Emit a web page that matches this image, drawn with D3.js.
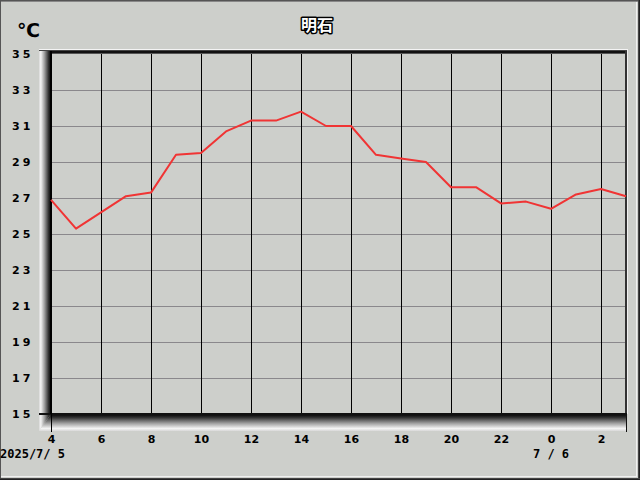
<!DOCTYPE html>
<html><head><meta charset="utf-8">
<script src="https://cdn.jsdelivr.net/npm/d3@7/dist/d3.min.js"></script>
<style>html,body{margin:0;padding:0;background:#cdcfcb;}svg{display:block;}</style>
</head><body>
<script>
const title = "明石";
const unit = "℃";
const hours = [4,5,6,7,8,9,10,11,12,13,14,15,16,17,18,19,20,21,22,23,0,1,2,3];
const temps = [26.9,25.3,26.2,27.1,27.3,29.4,29.5,30.7,31.3,31.3,31.8,31.0,31.0,29.4,29.2,29.0,27.6,27.6,26.7,26.8,26.4,27.2,27.5,27.1];
const yTicks = [15,17,19,21,23,25,27,29,31,33,35];
const xTickIdx = [0,2,4,6,8,10,12,14,16,18,20,22];
const dateLabels = [{idx:0, text:"2025/7/ 5"}, {idx:20, text:"7 / 6"}];

const W = 640, H = 480;
const svg = d3.select("body").append("svg").attr("width", W).attr("height", H);
const bg = "#cdcfcb";
svg.append("rect").attr("width", W).attr("height", H).attr("fill", bg);

const x = d3.scaleLinear().domain([0, hours.length - 1]).range([51, 626]);
const y = d3.scaleLinear().domain([15, 35]).range([414, 54]);

const defs = svg.append("defs");
const gw = defs.append("linearGradient").attr("id","wall").attr("x1","0").attr("x2","1").attr("y1","0").attr("y2","0");
gw.append("stop").attr("offset","0").attr("stop-color","#d8d8d8");
gw.append("stop").attr("offset","0.15").attr("stop-color","#f4f4f4");
gw.append("stop").attr("offset","0.45").attr("stop-color","#a0a0a0");
gw.append("stop").attr("offset","0.8").attr("stop-color","#303030");
gw.append("stop").attr("offset","1").attr("stop-color","#000");
const gf = defs.append("linearGradient").attr("id","floor").attr("x1","0").attr("x2","0").attr("y1","0").attr("y2","1");
gf.append("stop").attr("offset","0").attr("stop-color","#000");
gf.append("stop").attr("offset","0.2").attr("stop-color","#303030");
gf.append("stop").attr("offset","0.55").attr("stop-color","#a0a0a0");
gf.append("stop").attr("offset","0.85").attr("stop-color","#f4f4f4");
gf.append("stop").attr("offset","1").attr("stop-color","#d8d8d8");

// outer frame
svg.append("line").attr("x1",0).attr("x2",W).attr("y1",0.5).attr("y2",0.5).attr("stroke","#555");
svg.append("line").attr("x1",0).attr("x2",W).attr("y1",1.5).attr("y2",1.5).attr("stroke","#888");
svg.append("line").attr("x1",0.5).attr("x2",0.5).attr("y1",0).attr("y2",H).attr("stroke","#555");
svg.append("line").attr("x1",W-0.5).attr("x2",W-0.5).attr("y1",0).attr("y2",H).attr("stroke","#222");
svg.append("line").attr("x1",W-1.5).attr("x2",W-1.5).attr("y1",0).attr("y2",H).attr("stroke","#444");
svg.append("line").attr("x1",W-3.5).attr("x2",W-3.5).attr("y1",2).attr("y2",H-3).attr("stroke","#f0f0f0");
svg.append("line").attr("x1",0).attr("x2",W).attr("y1",H-0.5).attr("y2",H-0.5).attr("stroke","#222");
svg.append("line").attr("x1",0).attr("x2",W).attr("y1",H-1.5).attr("y2",H-1.5).attr("stroke","#444");
svg.append("line").attr("x1",1).attr("x2",W-3).attr("y1",H-3.5).attr("y2",H-3.5).attr("stroke","#f0f0f0");

const x0 = x.range()[0], x1 = x.range()[1];
const yTop = 51, yBot = y(15);

// 3D wall and floor
svg.append("polygon").attr("points", `39,${yTop-2} ${x0},${yTop} ${x0},${yBot} 39,${yBot+17}`).attr("fill","url(#wall)");
svg.append("polygon").attr("points", `39,${yBot+17} ${x0},${yBot} ${x1+1},${yBot} ${x1+1},${yBot+17}`).attr("fill","url(#floor)");

// horizontal grid
svg.append("g").selectAll("line").data(yTicks.filter(v => v > 15 && v < 35)).join("line")
  .attr("x1", x0).attr("x2", x1).attr("y1", d => Math.round(y(d)) + 0.5).attr("y2", d => Math.round(y(d)) + 0.5)
  .attr("stroke", "#8a888c").attr("stroke-width", 1);
// vertical grid
svg.append("g").selectAll("line").data(xTickIdx.slice(1)).join("line")
  .attr("x1", d => Math.round(x(d)) + 0.5).attr("x2", d => Math.round(x(d)) + 0.5)
  .attr("y1", yTop).attr("y2", yBot)
  .attr("stroke", "#000").attr("stroke-width", 1);

// top bar
svg.append("line").attr("x1",39).attr("x2",x1+2).attr("y1",yTop-1.5).attr("y2",yTop-1.5).attr("stroke","#f4f4f4");
svg.append("rect").attr("x",39).attr("y",yTop-1).attr("width",x1+2-39).attr("height",1).attr("fill","#444");
svg.append("rect").attr("x",x0-1).attr("y",yTop).attr("width",x1+1-x0+1).attr("height",2).attr("fill","#111");
svg.append("rect").attr("x",x0-1).attr("y",yTop+2).attr("width",x1+1-x0+1).attr("height",1).attr("fill","#555");
// right border
svg.append("rect").attr("x",x1-1).attr("y",yTop).attr("width",2).attr("height",yBot-yTop).attr("fill","#333");
svg.append("line").attr("x1",x1+1.5).attr("x2",x1+1.5).attr("y1",yTop-1).attr("y2",yBot).attr("stroke","#f0f0f0");
svg.append("line").attr("x1",x1+0.5).attr("x2",x1+0.5).attr("y1",yBot).attr("y2",yBot+18).attr("stroke","#111");
// bottom border & left axis
svg.append("rect").attr("x",39).attr("y",yBot-1).attr("width",x1+1-39).attr("height",2).attr("fill","#111");
svg.append("line").attr("x1",x0+0.5).attr("x2",x0+0.5).attr("y1",yTop).attr("y2",yBot+18).attr("stroke","#000").attr("stroke-width",1);
svg.append("rect").attr("x",x0-1).attr("y",yTop).attr("width",2).attr("height",yBot-yTop).attr("fill","#000");

// data line
const line = d3.line().x((d,i) => x(i)).y(d => y(d));
svg.append("path").datum(temps).attr("d", line).attr("fill","none")
  .attr("stroke","#f03434").attr("stroke-width",2).attr("stroke-linejoin","round");

// y axis labels
const yAxis = svg.append("g").attr("transform","translate(12,0)")
  .call(d3.axisLeft(y).tickValues(yTicks).tickSize(0).tickFormat(d3.format("d")));
yAxis.select(".domain").remove();
yAxis.selectAll("text").attr("x",0).attr("dy","0.32em").attr("text-anchor","start")
  .attr("font-family","DejaVu Sans").attr("font-weight","bold").attr("font-size","11px")
  .attr("letter-spacing","3px").attr("fill","#000");

// x axis labels
const xAxis = svg.append("g").attr("transform",`translate(0,${yBot+20})`)
  .call(d3.axisBottom(x).tickValues(xTickIdx).tickSize(0).tickFormat(i => String(hours[i])));
xAxis.select(".domain").remove();
xAxis.selectAll("text").attr("y",0).attr("dy","0.8em")
  .attr("font-family","DejaVu Sans").attr("font-weight","bold").attr("font-size","11px").attr("fill","#000");

// date labels
svg.append("text").attr("x", 0).attr("y", 458).text(dateLabels[0].text)
  .attr("font-family","DejaVu Sans Mono").attr("font-weight","bold").attr("font-size","12px").attr("fill","#000");
svg.append("text").attr("x", x(dateLabels[1].idx)).attr("y", 458).attr("text-anchor","middle").text(dateLabels[1].text)
  .attr("font-family","DejaVu Sans Mono").attr("font-weight","bold").attr("font-size","12px").attr("fill","#000");

// unit
svg.append("text").attr("x", 17).attr("y", 37).text(unit)
  .attr("font-family","DejaVu Sans").attr("font-weight","bold").attr("font-size","19px").attr("fill","#000");

// title
svg.append("text").attr("x", 317).attr("y", 31).attr("text-anchor","middle").text(title)
  .attr("font-family","Noto Sans CJK JP").attr("font-weight","bold").attr("font-size","16px")
  .attr("fill","#fff").attr("stroke","#000").attr("stroke-width",3).attr("paint-order","stroke")
  .attr("stroke-linejoin","round");
</script>
</body></html>
